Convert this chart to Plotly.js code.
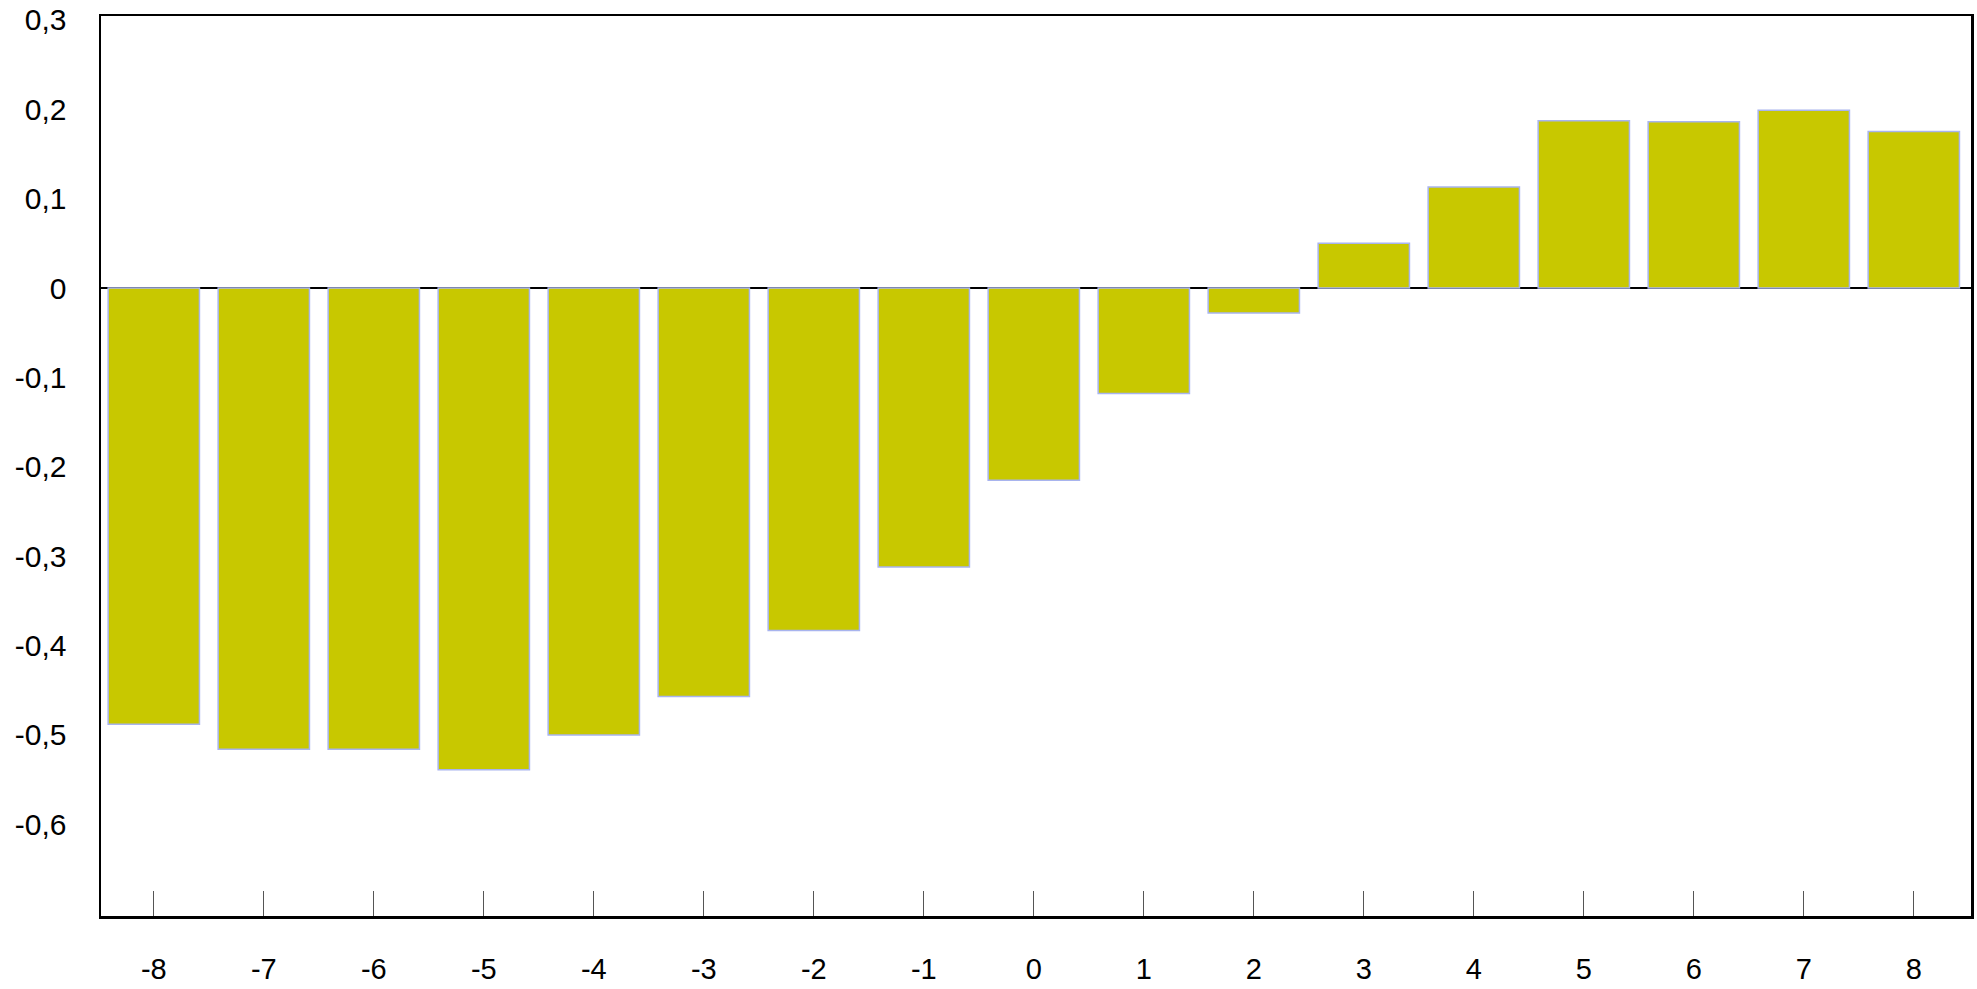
<!DOCTYPE html>
<html>
<head>
<meta charset="utf-8">
<script src="https://cdn.plot.ly/plotly-3.0.1.min.js"></script>
<style>html,body{margin:0;padding:0;background:#fff;}#chart{width:1977px;height:989px;}</style>
</head>
<body>
<div id="chart"></div>
<script>
const categories = ["-8","-7","-6","-5","-4","-3","-2","-1","0","1","2","3","4","5","6","7","8"];
const values = [-0.488,-0.516,-0.516,-0.539,-0.500,-0.457,-0.383,-0.312,-0.215,-0.118,-0.028,0.050,0.113,0.187,0.186,0.199,0.175];
const yTickVals = [0.3,0.2,0.1,0,-0.1,-0.2,-0.3,-0.4,-0.5,-0.6];
const yTickText = ["0,3","0,2","0,1","0","-0,1","-0,2","-0,3","-0,4","-0,5","-0,6"];

const trace = {
  type: 'bar',
  x: categories,
  y: values,
  marker: {color: '#c8c800', line: {color: '#a8b4ee', width: 1.5}},
  hoverinfo: 'x+y'
};

const layout = {
  width: 1977, height: 989,
  margin: {l: 101, r: 6, t: 16, b: 73, pad: 0},
  paper_bgcolor: '#ffffff', plot_bgcolor: '#ffffff',
  bargap: 0.17,
  showlegend: false,
  font: {family: '"Liberation Sans", Arial, sans-serif', size: 29, color: '#000'},
  xaxis: {
    type: 'category',
    range: [-0.48, 16.52],
    showgrid: false, zeroline: false,
    showline: true, mirror: true, linecolor: '#000', linewidth: 2.5,
    ticks: 'inside', ticklen: 25, tickwidth: 1, tickcolor: '#555',
    ticklabelstandoff: 26,
    tickfont: {size: 29}
  },
  yaxis: {
    range: [-0.7025, 0.3043],
    showgrid: false,
    zeroline: true, zerolinecolor: '#000', zerolinewidth: 2.5,
    showline: true, mirror: true, linecolor: '#000', linewidth: 2.5,
    ticks: '', tickmode: 'array', tickvals: yTickVals, ticktext: yTickText,
    ticklabelstandoff: 26,
    tickfont: {size: 30}
  }
};

Plotly.newPlot('chart', [trace], layout, {displayModeBar: false, staticPlot: true});
</script>
</body>
</html>
